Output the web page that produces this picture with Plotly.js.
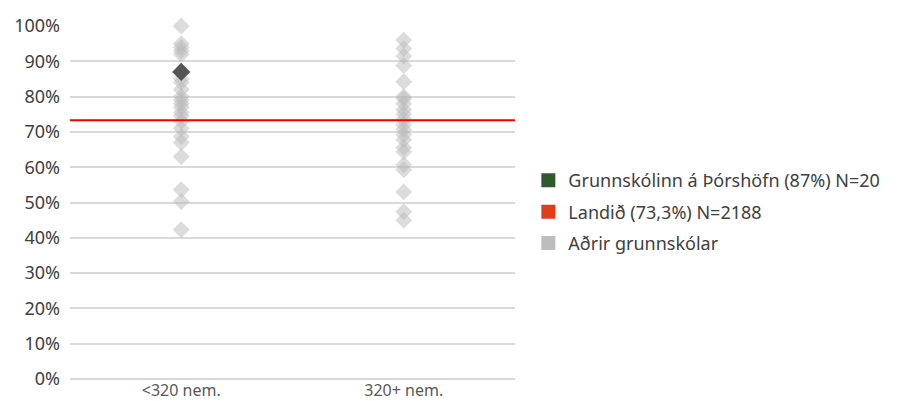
<!DOCTYPE html>
<html>
<head>
<meta charset="utf-8">
<script src="https://cdn.plot.ly/plotly-3.0.1.min.js"></script>
<style>html,body{margin:0;padding:0;background:#fff;}#chart{width:905px;height:401px;}</style>
</head>
<body>
<div id="chart"></div>
<script>
const categories = ["<320 nem.", "320+ nem."];

// Aðrir grunnskólar (other schools), values as fractions
const otherSmall = [1.00, 0.95, 0.94, 0.93, 0.92, 0.85, 0.84, 0.82, 0.80, 0.79, 0.78, 0.77, 0.755, 0.745, 0.73, 0.71, 0.687, 0.67, 0.63, 0.536, 0.503, 0.423];
const otherLarge = [0.96, 0.936, 0.915, 0.888, 0.842, 0.80, 0.794, 0.78, 0.763, 0.75, 0.735, 0.72, 0.707, 0.692, 0.678, 0.656, 0.644, 0.607, 0.593, 0.53, 0.474, 0.45];

// Grunnskólinn á Þórshöfn
const schoolCategory = ["<320 nem."];
const schoolValue = [0.87];

// Landið
const landidValue = 0.733;

const legendNames = ["Grunnskólinn á Þórshöfn (87%) N=20", "Landið (73,3%) N=2188", "Aðrir grunnskólar"];
const yTicks = [0, 0.1, 0.2, 0.3, 0.4, 0.5, 0.6, 0.7, 0.8, 0.9, 1.0];

const FONT = "Noto Sans, sans-serif";
const TXT = "#404040";

const otherX = otherSmall.map(() => categories[0]).concat(otherLarge.map(() => categories[1]));
const otherY = otherSmall.concat(otherLarge);

const traces = [
  {
    type: "scatter", mode: "markers", x: otherX, y: otherY,
    marker: {symbol: "diamond", size: 13, color: "rgba(185,185,185,0.5)", line: {width: 0}},
    showlegend: false, cliponaxis: false, hoverinfo: "skip"
  },
  {
    type: "scatter", mode: "markers", x: schoolCategory, y: schoolValue,
    marker: {symbol: "diamond", size: 14, color: "#555555", line: {width: 0}},
    showlegend: false, cliponaxis: false
  },
  // legend entries
  {type: "scatter", mode: "markers", x: [null], y: [null], name: legendNames[0], legendgroup: "a",
   marker: {symbol: "square", size: 14, color: "#2f5a30"}},
  {type: "scatter", mode: "markers", x: [null], y: [null], name: legendNames[1], legendgroup: "b",
   marker: {symbol: "square", size: 14, color: "#e03c1c"}},
  {type: "scatter", mode: "markers", x: [null], y: [null], name: legendNames[2], legendgroup: "c",
   marker: {symbol: "square", size: 14, color: "#bdbdbd"}}
];

const layout = {
  width: 905, height: 401,
  margin: {l: 70, r: 390, t: 26, b: 22},
  paper_bgcolor: "#fff", plot_bgcolor: "#fff",
  font: {family: FONT, size: 18, color: TXT},
  showlegend: true,
  legend: {x: 1.03, xanchor: "left", y: 0.473, yanchor: "middle", tracegroupgap: 5,
           font: {family: FONT, size: 18, color: TXT}, bgcolor: "rgba(0,0,0,0)"},
  xaxis: {type: "category", categoryorder: "array", categoryarray: categories,
          range: [-0.5, 1.5], showgrid: false, zeroline: false, showline: false,
          tickfont: {family: FONT, size: 16, color: "#595959"}, fixedrange: true},
  yaxis: {range: [0, 1], tickvals: yTicks, tickformat: ".0%", showgrid: true,
          gridcolor: "#d9d9d9", gridwidth: 2, zeroline: true, zerolinecolor: "#d9d9d9", zerolinewidth: 2,
          showline: false, ticklabelstandoff: 9,
          tickfont: {family: FONT, size: 18, color: TXT}, fixedrange: true},
  shapes: [
    {type: "line", xref: "paper", x0: 0, x1: 1, yref: "y", y0: landidValue, y1: landidValue,
     line: {color: "#ee0000", width: 2}}
  ]
};

Plotly.newPlot("chart", traces, layout, {displayModeBar: false, staticPlot: true});
</script>
</body>
</html>
